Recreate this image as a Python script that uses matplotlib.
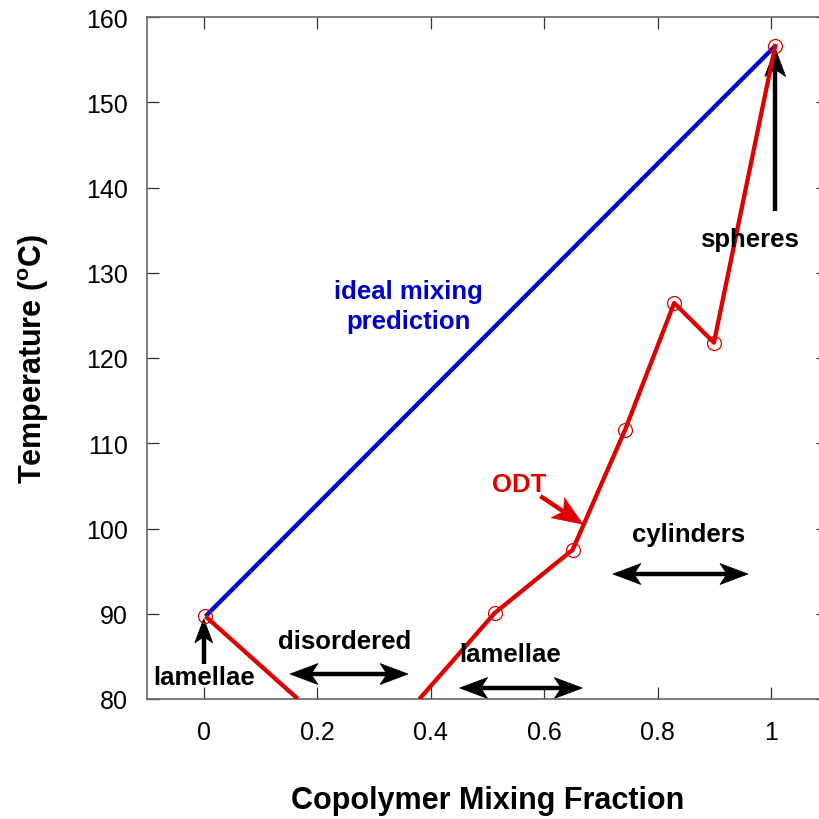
import matplotlib
matplotlib.use("Agg")
import matplotlib.pyplot as plt
import numpy as np
from matplotlib.patches import Polygon
from matplotlib.transforms import IdentityTransform

plt.rcParams['font.family'] = ['Liberation Sans', 'DejaVu Sans']
plt.rcParams['mathtext.fontset'] = 'custom'
plt.rcParams['mathtext.rm'] = 'Liberation Sans'
plt.rcParams['mathtext.bf'] = 'Liberation Sans:bold'

# data
odt_x = [0.003, 0.513, 0.650, 0.742, 0.829, 0.899, 1.007]
odt_y = [89.7, 90.1, 97.5, 111.5, 126.45, 121.8, 156.6]
odt_low_left_x = [0.003, 0.166]
odt_low_left_y = [89.7, 80.0]
odt_low_right_x = [0.380, 0.513]
odt_low_right_y = [80.0, 90.1]
ideal_x = [0.003, 1.007]
ideal_y = [89.7, 156.6]
x_ticks = [0, 0.2, 0.4, 0.6, 0.8, 1]
x_tick_labels = ['0', '0.2', '0.4', '0.6', '0.8', '1']
y_ticks = [80, 90, 100, 110, 120, 130, 140, 150, 160]

RED = '#dd0000'
BLUE = '#0000cc'

fig = plt.figure(figsize=(8.2, 8.2), dpi=100)
ax = fig.add_axes([147/820, 120/820, (828-147)/820, (700-18)/820])
ax.set_xlim(-0.1, 1.1)
ax.set_ylim(80, 160)

ax.plot(ideal_x, ideal_y, color=BLUE, lw=3.1, solid_capstyle='butt', zorder=3)
ax.plot(odt_low_left_x, odt_low_left_y, color=RED, lw=3.1, solid_capstyle='butt', zorder=3)
ax.plot(odt_low_right_x, odt_low_right_y, color=RED, lw=3.1, solid_capstyle='butt', zorder=3)
ax.plot(odt_x[1:], odt_y[1:], color=RED, lw=3.1, zorder=3)
ax.plot(odt_x, odt_y, ls='none', marker='o', ms=10, mfc='none', mec=RED, mew=0.9, zorder=4)

ax.set_xticks(x_ticks)
ax.set_xticklabels(x_tick_labels)
ax.set_yticks(y_ticks)
ax.tick_params(direction='in', length=8.5, width=0.9, color='#333333',
               labelsize=18, top=True, right=True)
ax.tick_params(axis='x', pad=15)
ax.tick_params(axis='y', pad=14)
for s in ax.spines.values():
    s.set_color('#666666')
    s.set_linewidth(1.2)

ax.set_xlabel('Copolymer Mixing Fraction', fontsize=22, fontweight='bold', labelpad=30)
ax.set_ylabel(r'Temperature ($^{\mathbf{o}}$C)', fontsize=22, fontweight='bold', labelpad=25)

fs = 18.5
ax.text(0.36, 126.1, 'ideal mixing\nprediction', color=BLUE, fontsize=fs, fontweight='bold',
        ha='center', va='center', linespacing=1.3)
ax.text(0.961, 133.96, 'spheres', fontsize=fs, fontweight='bold', ha='center', va='center')
ax.text(0.854, 99.35, 'cylinders', fontsize=fs, fontweight='bold', ha='center', va='center')
ax.text(0.556, 105.2, 'ODT', color=RED, fontsize=fs, fontweight='bold', ha='center', va='center')
ax.text(0.0, 82.6, 'lamellae', fontsize=fs, fontweight='bold', ha='center', va='center')
ax.text(0.249, 86.8, 'disordered', fontsize=fs, fontweight='bold', ha='center', va='center')
ax.text(0.54, 85.3, 'lamellae', fontsize=fs, fontweight='bold', ha='center', va='center')


def head(tip, u, L, W, notch, color):
    n = np.array([-u[1], u[0]])
    pts = [tip,
           tip - L * u + W * n,
           tip - notch * u,
           tip - L * u - W * n]
    ax.add_patch(Polygon(pts, closed=True, facecolor=color, edgecolor=color, lw=0.5,
                         transform=IdentityTransform(), zorder=2))


def barbed_arrow(start, end, both=False, color='black', lw=3.2, L=28, W=10.5, notch=21):
    p0 = ax.transData.transform(start)
    p1 = ax.transData.transform(end)
    d = p1 - p0
    u = d / np.hypot(*d)
    a = p0 + (notch * u if both else 0)
    b = p1 - notch * u
    ax.add_line(plt.Line2D([a[0], b[0]], [a[1], b[1]], color=color, lw=lw,
                           transform=IdentityTransform(), solid_capstyle='butt', zorder=2))
    head(p1, u, L, W, notch, color)
    if both:
        head(p0, -u, L, W, notch, color)


barbed_arrow((1.007, 137.2), (1.007, 156.3))
barbed_arrow((0.0, 84.1), (0.0, 89.4), L=24, W=9, notch=18)
barbed_arrow((0.721, 94.66), (0.959, 94.66), both=True)
barbed_arrow((0.152, 82.93), (0.360, 82.93), both=True)
barbed_arrow((0.451, 81.29), (0.667, 81.29), both=True)
barbed_arrow((0.593, 103.8), (0.668, 100.5), color=RED, L=30, W=12, notch=23)

fig.savefig('out.png', dpi=100)
